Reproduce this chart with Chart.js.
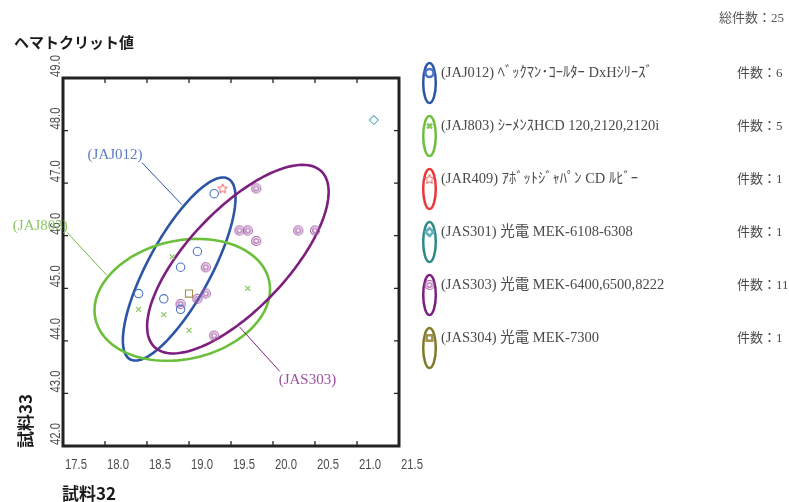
<!DOCTYPE html>
<html>
<head>
<meta charset="utf-8">
<script src="https://cdn.jsdelivr.net/npm/chart.js@4.4.1/dist/chart.umd.min.js"></script>
<style>
  html, body { margin: 0; padding: 0; background: #fff; }
  #wrap { width: 789px; height: 502px; position: relative; }
</style>
</head>
<body>
<div id="wrap"><canvas id="chart"></canvas></div>
<script>
'use strict';

// ---- data ----
var seriesNames = [
    '(JAJ012) ﾍﾞｯｸﾏﾝ･ｺｰﾙﾀｰ DxHｼﾘｰｽﾞ',
    '(JAJ803) ｼｰﾒﾝｽHCD 120,2120,2120i',
    '(JAR409) ｱﾎﾞｯﾄｼﾞｬﾊﾟﾝ CD ﾙﾋﾞｰ',
    '(JAS301) 光電 MEK-6108-6308',
    '(JAS303) 光電 MEK-6400,6500,8222',
    '(JAS304) 光電 MEK-7300'
];
var seriesCounts = [6, 5, 1, 1, 11, 1];
var totalCount = 25;

var jaj012X = [19.3, 19.1, 18.9, 18.4, 18.7, 18.9];
var jaj012Y = [46.8, 45.7, 45.4, 44.9, 44.8, 44.6];
var jaj803X = [18.8, 18.4, 18.7, 19.0, 19.7];
var jaj803Y = [45.6, 44.6, 44.5, 44.2, 45.0];
var jar409X = [19.4];
var jar409Y = [46.9];
var jas301X = [21.2];
var jas301Y = [48.2];
var jas303X = [19.8, 19.6, 19.7, 19.8, 20.3, 20.5, 19.2, 19.2, 19.1, 19.3, 18.9];
var jas303Y = [46.9, 46.1, 46.1, 45.9, 46.1, 46.1, 45.4, 44.9, 44.8, 44.1, 44.7];
var jas304X = [19.0];
var jas304Y = [44.9];

var xTicks = [17.5, 18.0, 18.5, 19.0, 19.5, 20.0, 20.5, 21.0, 21.5];
var yTicks = [42.0, 43.0, 44.0, 45.0, 46.0, 47.0, 48.0, 49.0];

var chartTitle = 'ヘマトクリット値';
var xTitle = '試料32';
var yTitle = '試料33';

// 90% confidence ellipse (chi-square, 2 dof)
var chiSquare90 = 4.605;

// ---- styles ----
var pointColors = ['#4e73c6', '#84c45a', '#f05a5a', '#62aebe', '#a45aa8', '#a0924a'];
var ellipseColors = ['#2b55a6', '#6cbf3c', '#e8383a', '#2e8a86', '#7d1f7e', '#7f7a2a'];
var labelColors = ['#5d7cc4', '#8cc866', '', '', '#9a4f9d', ''];

var serifFont = "'Liberation Serif', 'Noto Sans CJK JP', serif";
var gothicFont = "'Noto Sans CJK JP', sans-serif";
var tickFont = "'Liberation Sans', sans-serif";

function makeStar(color) {
    var cv = document.createElement('canvas');
    cv.width = 12; cv.height = 12;
    var g = cv.getContext('2d');
    g.strokeStyle = color; g.lineWidth = 1;
    g.beginPath();
    for (var i = 0; i < 10; i++) {
        var r = i % 2 ? 2.2 : 5;
        var a = -Math.PI / 2 + i * Math.PI / 5;
        g.lineTo(6 + r * Math.cos(a), 6.5 + r * Math.sin(a));
    }
    g.closePath(); g.stroke();
    return cv;
}

function makeDoubleCircle(color) {
    var cv = document.createElement('canvas');
    cv.width = 12; cv.height = 12;
    var g = cv.getContext('2d');
    g.strokeStyle = color; g.lineWidth = 1.1;
    g.beginPath(); g.arc(6, 6, 4.5, 0, Math.PI * 2); g.stroke();
    g.beginPath(); g.arc(6, 6, 2.3, 0, Math.PI * 2); g.stroke();
    return cv;
}

var pointStyles = ['circle', 'crossRot', makeStar(pointColors[2]), 'rectRot', makeDoubleCircle(pointColors[4]), 'rect'];
var pointRadius = [4.2, 3.5, 5, 4.5, 5, 5];

function pairs(xs, ys) {
    return xs.map(function (x, i) { return { x: x, y: ys[i] }; });
}

var seriesX = [jaj012X, jaj803X, jar409X, jas301X, jas303X, jas304X];
var seriesY = [jaj012Y, jaj803Y, jar409Y, jas301Y, jas303Y, jas304Y];

var datasets = seriesNames.map(function (name, i) {
    return {
        label: name,
        data: pairs(seriesX[i], seriesY[i]),
        pointStyle: pointStyles[i],
        pointRadius: pointRadius[i],
        pointHoverRadius: pointRadius[i],
        pointBorderWidth: 1.1,
        pointBorderColor: pointColors[i],
        pointBackgroundColor: 'rgba(0,0,0,0)'
    };
});

// ellipse from the sample covariance of a series
function ellipseOf(xs, ys) {
    var n = xs.length, mx = 0, my = 0, sxx = 0, syy = 0, sxy = 0;
    for (var i = 0; i < n; i++) { mx += xs[i]; my += ys[i]; }
    mx /= n; my /= n;
    for (var j = 0; j < n; j++) {
        sxx += (xs[j] - mx) * (xs[j] - mx);
        syy += (ys[j] - my) * (ys[j] - my);
        sxy += (xs[j] - mx) * (ys[j] - my);
    }
    sxx /= (n - 1); syy /= (n - 1); sxy /= (n - 1);
    var k = Math.sqrt(chiSquare90);
    var a = Math.sqrt(sxx);
    return { mx: mx, my: my, a: k * a, b: k * sxy / a, c: k * Math.sqrt(syy - sxy * sxy / sxx) };
}

// leader labels (data coordinates)
var leaderLabels = [
    { series: 0, text: '(JAJ012)', x: 18.12, y: 47.54, from: [18.44, 47.39], to: [18.915, 46.59] },
    { series: 1, text: '(JAJ803)', x: 17.23, y: 46.19, from: [17.55, 46.06], to: [18.02, 45.25] },
    { series: 4, text: '(JAS303)', x: 20.41, y: 43.25, from: [19.605, 44.26], to: [20.08, 43.42] }
];

var decorPlugin = {
    id: 'decor',
    beforeDatasetsDraw: function (chart) {
        var ctx = chart.ctx, xs = chart.scales.x, ys = chart.scales.y;
        ctx.save();
        [0, 1, 4].forEach(function (i) {
            var e = ellipseOf(seriesX[i], seriesY[i]);
            ctx.beginPath();
            for (var s = 0; s <= 120; s++) {
                var t = s / 120 * Math.PI * 2;
                var px = xs.getPixelForValue(e.mx + e.a * Math.cos(t));
                var py = ys.getPixelForValue(e.my + e.b * Math.cos(t) + e.c * Math.sin(t));
                if (s === 0) ctx.moveTo(px, py); else ctx.lineTo(px, py);
            }
            ctx.closePath();
            ctx.strokeStyle = ellipseColors[i];
            ctx.lineWidth = 2.6;
            ctx.stroke();
        });
        ctx.restore();
    },
    afterDatasetsDraw: function (chart) {
        var ctx = chart.ctx, xs = chart.scales.x, ys = chart.scales.y, area = chart.chartArea;
        ctx.save();

        // frame
        ctx.strokeStyle = '#222';
        ctx.lineWidth = 3;
        ctx.strokeRect(area.left, area.top, area.right - area.left, area.bottom - area.top);

        // inner ticks on all four sides, labels bottom / left
        ctx.lineWidth = 1.3;
        ctx.fillStyle = '#4d4d4d';
        ctx.font = '14.5px ' + tickFont;
        ctx.textAlign = 'left';
        ctx.textBaseline = 'alphabetic';
        xTicks.forEach(function (v, i) {
            var px = xs.getPixelForValue(v);
            if (i > 0 && i < xTicks.length - 1) {
                ctx.beginPath();
                ctx.moveTo(px, area.bottom); ctx.lineTo(px, area.bottom - 5);
                ctx.moveTo(px, area.top); ctx.lineTo(px, area.top + 5);
                ctx.stroke();
            }
            ctx.save();
            ctx.translate(px + 2, area.bottom + 23);
            ctx.scale(0.78, 1);
            ctx.fillText(v.toFixed(1), 0, 0);
            ctx.restore();
        });
        yTicks.forEach(function (v, i) {
            var py = ys.getPixelForValue(v);
            if (i > 0 && i < yTicks.length - 1) {
                ctx.beginPath();
                ctx.moveTo(area.left, py); ctx.lineTo(area.left + 5, py);
                ctx.moveTo(area.right, py); ctx.lineTo(area.right - 5, py);
                ctx.stroke();
            }
            ctx.save();
            ctx.translate(area.left - 3, py - 1);
            ctx.rotate(-Math.PI / 2);
            ctx.scale(0.78, 1);
            ctx.fillText(v.toFixed(1), 0, 0);
            ctx.restore();
        });

        // leader labels
        ctx.font = '15px ' + serifFont;
        ctx.textAlign = 'center';
        ctx.textBaseline = 'middle';
        leaderLabels.forEach(function (l) {
            ctx.strokeStyle = ellipseColors[l.series];
            ctx.lineWidth = 1;
            ctx.beginPath();
            ctx.moveTo(xs.getPixelForValue(l.from[0]), ys.getPixelForValue(l.from[1]));
            ctx.lineTo(xs.getPixelForValue(l.to[0]), ys.getPixelForValue(l.to[1]));
            ctx.stroke();
            ctx.fillStyle = labelColors[l.series];
            ctx.fillText(l.text, xs.getPixelForValue(l.x), ys.getPixelForValue(l.y));
        });

        // titles
        ctx.fillStyle = '#1a1a1a';
        ctx.font = 'bold 15px ' + gothicFont;
        ctx.textAlign = 'left';
        ctx.textBaseline = 'alphabetic';
        ctx.fillText(chartTitle, 14, 48);
        ctx.font = 'bold 17px ' + gothicFont;
        ctx.fillText(xTitle, 62, 500);
        ctx.save();
        ctx.translate(32, 448);
        ctx.rotate(-Math.PI / 2);
        ctx.fillText(yTitle, 0, 0);
        ctx.restore();

        ctx.fillStyle = '#555';
        ctx.font = '13px ' + serifFont;
        ctx.textAlign = 'right';
        ctx.fillText('総件数：' + totalCount, 784, 22);

        // legend
        seriesNames.forEach(function (name, i) {
            var cy = 83 + i * 53;
            ctx.strokeStyle = ellipseColors[i];
            ctx.lineWidth = 2.5;
            ctx.beginPath();
            ctx.ellipse(429.5, cy, 6.3, 20, 0, 0, Math.PI * 2);
            ctx.stroke();
            ctx.strokeStyle = pointColors[i];
            ctx.fillStyle = 'rgba(0,0,0,0)';
            Chart.helpers.drawPoint(ctx, {
                pointStyle: pointStyles[i], radius: Math.min(pointRadius[i], 4),
                rotation: 0, borderWidth: 1
            }, 429.5, cy - 10);
            ctx.fillStyle = '#4a4a4a';
            ctx.font = '14.5px ' + serifFont;
            ctx.textAlign = 'left';
            ctx.fillText(name, 441, cy - 6);
            ctx.font = '13px ' + serifFont;
            ctx.fillText('件数：' + seriesCounts[i], 737, cy - 6);
        });

        ctx.restore();
    }
};

var chart = new Chart(document.getElementById('chart'), {
    type: 'scatter',
    data: { datasets: datasets },
    options: {
        responsive: true,
        maintainAspectRatio: false,
        animation: false,
        layout: { padding: { left: 63, top: 78, right: 390, bottom: 56 } },
        plugins: {
            legend: { display: false },
            tooltip: { enabled: false }
        },
        scales: {
            x: { type: 'linear', min: 17.5, max: 21.5, display: false },
            y: { type: 'linear', min: 42, max: 49, display: false }
        }
    },
    plugins: [decorPlugin]
});
</script>
</body>
</html>
